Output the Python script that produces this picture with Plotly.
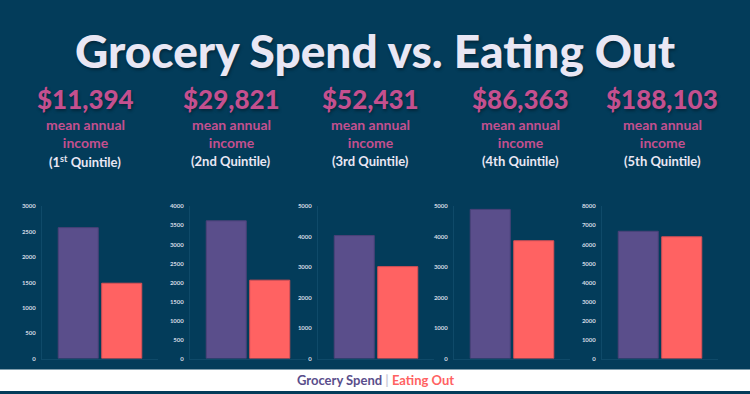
import plotly.graph_objects as go

quintiles = ["(1<sup>st</sup> Quintile)", "(2nd Quintile)", "(3rd Quintile)", "(4th Quintile)", "(5th Quintile)"]
incomes = ["$11,394", "$29,821", "$52,431", "$86,363", "$188,103"]
grocery = [2580, 3620, 4040, 4900, 6690]
eating_out = [1485, 2060, 3020, 3870, 6400]
y_max = [3000, 4000, 5000, 5000, 8000]
y_step = [500, 500, 1000, 1000, 1000]

W, H = 750, 394
BG = "#033c5a"
PURPLE = "#5a4e8b"
RED = "#ff6262"
PINK = "#c4508f"
TXT = "#e9e7f4"

axis_left = [42, 190, 318, 454, 602]
axis_w = 116
text_cx = [85, 231, 370, 520, 662]
y0_px, y1_px = 361, 206

def px(x):
    return x / W

def py(y):
    return (H - y) / H

fig = go.Figure()
layout = {}
for i in range(5):
    xa = "x" if i == 0 else f"x{i+1}"
    ya = "y" if i == 0 else f"y{i+1}"
    fig.add_trace(go.Bar(x=[""], y=[grocery[i]], name="Grocery Spend", xaxis=xa, yaxis=ya,
                         marker=dict(color=PURPLE, line=dict(color="#4a4178", width=1)),
                         showlegend=False, hoverinfo="y"))
    fig.add_trace(go.Bar(x=[""], y=[eating_out[i]], name="Eating Out", xaxis=xa, yaxis=ya,
                         marker=dict(color=RED, line=dict(color="#d94f55", width=1)),
                         showlegend=False, hoverinfo="y"))
    kx = "xaxis" if i == 0 else f"xaxis{i+1}"
    ky = "yaxis" if i == 0 else f"yaxis{i+1}"
    layout[kx] = dict(domain=[px(axis_left[i]), px(axis_left[i] + axis_w)], anchor=ya,
                      showticklabels=False, showgrid=False, zeroline=False,
                      showline=True, linecolor="#0f4a69", linewidth=1, ticks="")
    layout[ky] = dict(domain=[py(y0_px), py(y1_px)], anchor=xa, range=[0, y_max[i]],
                      dtick=y_step[i], tick0=0, showgrid=False, zeroline=False,
                      showline=True, linecolor="#0f4a69", linewidth=1, ticks="",
                      tickfont=dict(family="Lato", size=6, color="#d4dbe3", weight=700),
                      ticklabelstandoff=4)

annotations = []
shadow = "1px 2px 3px rgba(0,0,0,0.35)"

def add_text(text, x, y, size, color, weight, sh="none"):
    annotations.append(dict(text=text, x=px(x), y=py(y), xref="paper", yref="paper",
                            showarrow=False, xanchor="center", yanchor="middle",
                            font=dict(family="Lato", size=size, color=color, weight=weight, shadow=sh)))

add_text("Grocery Spend vs. Eating Out", 375, 47, 46, TXT, 900, shadow)
for i in range(5):
    add_text(incomes[i], text_cx[i], 97, 26, PINK, 900, shadow)
    add_text("mean annual<br>income", text_cx[i], 132, 14, PINK, 700)
    add_text(quintiles[i], text_cx[i], 160, 13, TXT, 700)

annotations.append(dict(
    text=f"<span style='color:{PURPLE}'>Grocery Spend</span> <span style='color:#c9c9d6'>|</span> <span style='color:{RED}'>Eating Out</span>",
    x=0.5, y=py(383), xref="paper", yref="paper", showarrow=False, xanchor="center", yanchor="middle",
    font=dict(family="Lato", size=13, weight=700)))

fig.update_layout(
    width=W, height=H, margin=dict(l=0, r=0, t=0, b=0),
    paper_bgcolor=BG, plot_bgcolor="rgba(0,0,0,0)",
    barmode="group", bargap=0.25, bargroupgap=0.08,
    showlegend=False, annotations=annotations,
    shapes=[dict(type="rect", xref="paper", yref="paper", x0=0, x1=1, y0=0, y1=py(372),
                 fillcolor="white", line=dict(width=0), layer="below")],
    **layout,
)

fig.write_html("out.html", config={"displayModeBar": False},
               post_script="document.body.style.margin='0';document.body.style.overflow='hidden';")
